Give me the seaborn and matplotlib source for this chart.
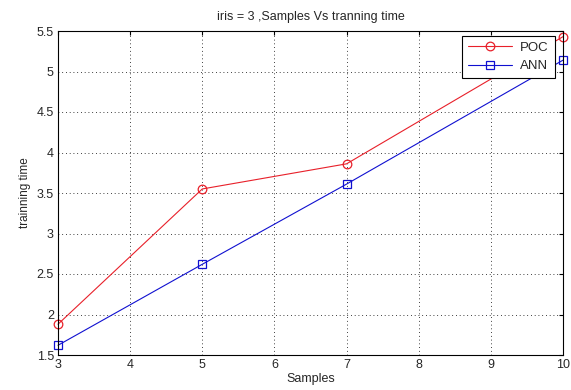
import matplotlib
matplotlib.use("Agg")
import matplotlib.pyplot as plt
import seaborn as sns
import pandas as pd

samples = [3, 5, 7, 10]
poc = [1.88, 3.55, 3.86, 5.43]
ann = [1.62, 2.62, 3.61, 5.14]
series_names = ["POC", "ANN"]
x_ticks = [3, 4, 5, 6, 7, 8, 9, 10]
y_ticks = [1.5, 2, 2.5, 3, 3.5, 4, 4.5, 5, 5.5]

sns.set_style("white")
plt.rcParams['font.family'] = ['Liberation Sans', 'DejaVu Sans']

df = pd.DataFrame({
    "Samples": samples * 2,
    "time": poc + ann,
    "series": [series_names[0]] * len(samples) + [series_names[1]] * len(samples),
})

fig = plt.figure(figsize=(5.71, 3.90), dpi=100)
ax = fig.add_axes([58 / 571, 1 - 355 / 390, 505 / 571, 324 / 390])

palette = {"POC": "#e8202a", "ANN": "#1010d0"}
markers = {"POC": "o", "ANN": "s"}
sns.lineplot(data=df, x="Samples", y="time", hue="series", style="series",
             markers=markers, dashes=False, palette=palette, ax=ax,
             linewidth=0.8, markersize=6.2, markerfacecolor="none",
             markeredgewidth=0.9)
for line in ax.lines:
    line.set_markerfacecolor("none")
    line.set_markeredgecolor(line.get_color())
    line.set_clip_on(False)

ax.set_xlim(3, 10)
ax.set_ylim(1.5, 5.5)
ax.set_xticks(x_ticks)
ax.set_yticks(y_ticks)
ax.set_yticklabels([f"{v:g}" for v in y_ticks])
ax.grid(True, color="black", linestyle=(0, (1, 3.5)), linewidth=0.6)
ax.tick_params(direction="in", length=3, labelsize=9, top=True, right=True,
               color="black", pad=3)
for s in ax.spines.values():
    s.set_color("black")
    s.set_linewidth(0.8)
ax.set_xlabel("Samples", fontsize=9, labelpad=1)
ax.set_ylabel("trainning time", fontsize=8.5, labelpad=4)
ax.set_title("iris = 3 ,Samples Vs tranning time", fontsize=9, pad=8)

handles, labels = ax.get_legend_handles_labels()
for h in handles:
    h.set_markerfacecolor("none")
    h.set_markeredgecolor(h.get_color())
leg = ax.legend(handles, labels, loc="upper right", bbox_to_anchor=(0.984, 0.985),
                borderaxespad=0, fancybox=False, framealpha=1, edgecolor="black",
                fontsize=9.5, handlelength=3.4, borderpad=0.45, labelspacing=0.45,
                handletextpad=0.6)
leg.get_frame().set_linewidth(0.8)
leg.set_zorder(5)

fig.savefig("out.png", dpi=100)
